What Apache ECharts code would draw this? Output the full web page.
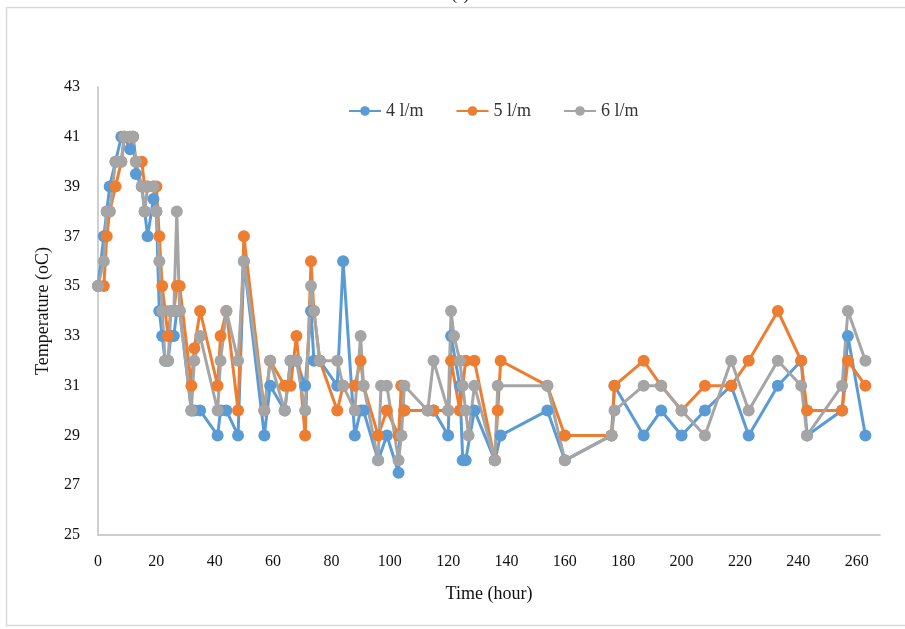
<!DOCTYPE html>
<html>
<head>
<meta charset="utf-8">
<script src="https://cdn.jsdelivr.net/npm/echarts@6/dist/echarts.min.js"></script>
<style>
  html, body { margin: 0; padding: 0; background: #fff; }
  #chart { width: 905px; height: 629px; }
</style>
</head>
<body>
<div id="chart"></div>
<script>
// time points (hour), shared by all series; null = no reading for that series
var times = [0, 2, 3, 4, 6, 8, 9, 11, 12, 13,
	15, 16, 17, 19, 20, 21, 22, 23, 24, 25,
	26, 27, 28, 32, 33, 35, 41, 42, 44, 48,
	50, 57, 59, 64, 66, 68, 71, 73, 74, 76,
	82, 84, 88, 90, 91, 96, 97, 99, 103, 104,
	105, 113, 115, 120, 121, 122, 124, 125, 126, 127,
	129, 136, 137, 138, 154, 160, 176, 177, 187, 193,
	200, 208, 217, 223, 233, 241, 243, 255, 257, 263];

var flow4 = [35, 37, 38, 39, 40, 41, 41, 40.5, 41, 39.5,
	39, 38, 37, 38.5, 38, 34, 33, 32, 32, 33,
	33, 34, 34, 30, 30, 30, 29, 30, 30, 29,
	36, 29, 31, 30, 32, 32, 31, 34, 32, 32,
	31, 36, 29, 30, 30, 28, null, 29, 27.5, 31,
	30, null, 30, 29, 33, null, 31, 28, 28, null,
	30, 28, null, 29, 30, 28, 29, 31, 29, 30,
	29, 30, 31, 29, 31, 32, 29, 30, 33, 29];

var flow5 = [35, 35, 37, 38, 39, 40, 41, 41, 41, 40,
	40, 39, 39, 39, 39, 37, 35, 34, 33, 34,
	34, 35, 35, 31, 32.5, 34, 31, 33, 34, 30,
	37, 30, 32, 31, 31, 33, 29, 36, 34, 32,
	30, 31, 31, 32, 31, 29, null, 30, 29, 31,
	30, 30, 30, 30, 32, null, 30, null, 32, null,
	32, 28, 30, 32, 31, 29, 29, 31, 32, 31,
	30, 31, 31, 32, 34, 32, 30, 30, 32, 31];

var flow6 = [35, 36, 38, 38, 40, 40, 41, 41, 41, 40,
	39, 38, 39, 39, 38, 36, 34, 32, 32, 34,
	34, 38, 34, 30, 32, 33, 30, 32, 34, 32,
	36, 30, 32, 30, 32, 32, 30, 35, 34, 32,
	32, 31, 30, 33, 31, 28, 31, 31, 28, 29,
	31, 30, 32, 30, 34, 33, 32, 31, 30, 29,
	31, 28, 31, null, 31, 28, 29, 30, 31, 31,
	30, 29, 32, 30, 32, 31, 29, 31, 34, 32];

var seriesNames = ['4 l/m', '5 l/m', '6 l/m'];
var seriesColors = ['#5B9BD5', '#ED7D31', '#A5A5A5'];

function pairs(vals) {
	return times.map(function (t, i) { return [t, vals[i]]; });
}

var chart = echarts.init(document.getElementById('chart'));
var font = "'Liberation Serif', 'Times New Roman', serif";

var series = [flow4, flow5, flow6].map(function (vals, i) {
	return {
		name: seriesNames[i],
		type: 'line',
		data: pairs(vals),
		connectNulls: true,
		symbol: 'circle',
		symbolSize: 12,
		color: seriesColors[i],
		lineStyle: { width: 3, color: seriesColors[i] },
		itemStyle: { color: seriesColors[i] },
		animation: false
	};
});

var option = {
	backgroundColor: '#fff',
	textStyle: { fontFamily: font },
	graphic: [
		{
			type: 'rect',
			shape: { x: 6.5, y: 7.5, width: 905, height: 618 },
			style: { fill: 'none', stroke: '#d9d9d9', lineWidth: 1.5 },
			silent: true
		},
		{
			type: 'text',
			left: 452,
			top: -11,
			style: { text: '(a)', font: '15px ' + font, fill: '#000' }
		}
	],
	legend: {
		top: 97,
		left: 343,
		itemWidth: 32,
		itemHeight: 12,
		itemGap: 32,
		textStyle: { fontFamily: font, fontSize: 18, color: '#333' },
		data: seriesNames
	},
	grid: { left: 98, right: 25, top: 87, bottom: 94 },
	xAxis: {
		type: 'value',
		min: 0,
		max: 268,
		interval: 20,
		name: 'Time (hour)',
		nameLocation: 'middle',
		nameGap: 50,
		nameTextStyle: { fontFamily: font, fontSize: 18, color: '#111' },
		axisLine: { show: true, lineStyle: { color: '#bfbfbf', width: 1.5 } },
		axisTick: { show: false },
		splitLine: { show: false },
		axisLabel: { fontFamily: font, fontSize: 16, color: '#111', margin: 19, showMaxLabel: false }
	},
	yAxis: {
		type: 'value',
		min: 25,
		max: 43,
		interval: 2,
		name: 'Temperature (oC)',
		nameLocation: 'middle',
		nameGap: 46,
		nameTextStyle: { fontFamily: font, fontSize: 18, color: '#111' },
		axisLine: { show: true, lineStyle: { color: '#bfbfbf', width: 1.5 } },
		axisTick: { show: false },
		splitLine: { show: false },
		axisLabel: { fontFamily: font, fontSize: 16, color: '#111', margin: 18 }
	},
	series: series
};

chart.setOption(option);
</script>
</body>
</html>
